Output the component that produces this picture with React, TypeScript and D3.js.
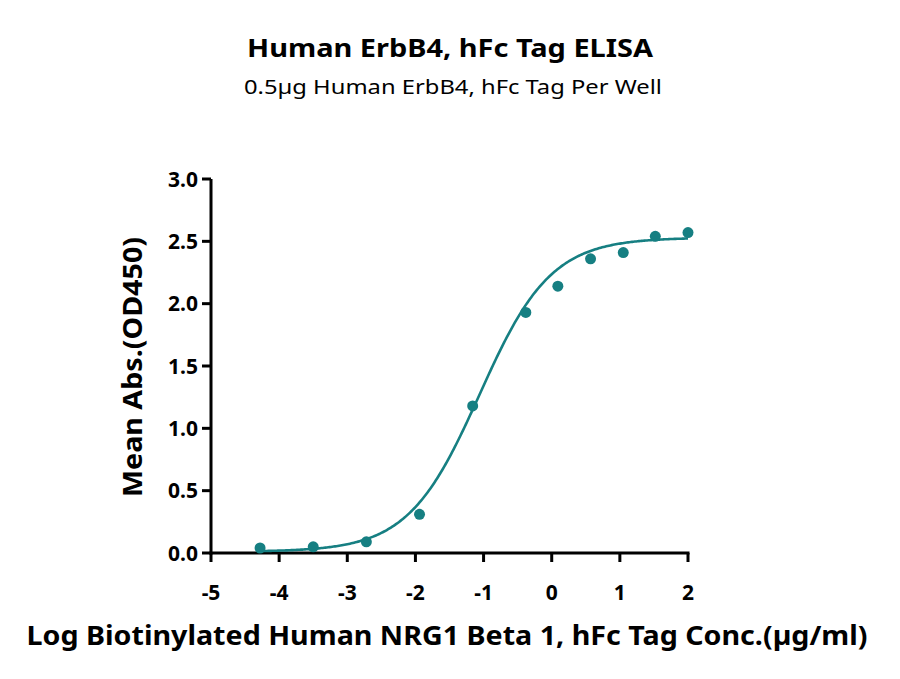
import React from "react";
import * as d3 from "d3";

// Measured points (log conc., mean OD450)
const logConc = [2.0, 1.52, 1.05, 0.57, 0.09, -0.38, -1.16, -1.94, -2.72, -3.5, -4.28];
const meanAbs = [2.57, 2.54, 2.41, 2.36, 2.14, 1.93, 1.18, 0.31, 0.09, 0.05, 0.04];

// 4PL fit: bottom, top, logEC50, hill slope
const fitBottom = [0.01];
const fitTop = [2.53];
const fitLogEC50 = [-1.06];
const fitHill = [0.83];

const xTicks = [-5, -4, -3, -2, -1, 0, 1, 2];
const yTicks = [0, 0.5, 1.0, 1.5, 2.0, 2.5, 3.0];

const title = "Human ErbB4, hFc Tag ELISA";
const subtitle = "0.5µg Human ErbB4, hFc Tag Per Well";
const xLabel = "Log Biotinylated Human NRG1 Beta 1, hFc Tag Conc.(µg/ml)";
const yLabel = "Mean Abs.(OD450)";

const W = 900;
const H = 679;
const TEAL = "#167f82";
const FONT = "'Noto Sans', 'Open Sans', sans-serif";

const App: React.FC = () => {
  const x = d3.scaleLinear().domain([-5, 2]).range([211, 688]);
  const y = d3.scaleLinear().domain([0, 3]).range([553, 179]);

  const fit = (v: number) =>
    fitBottom[0] + (fitTop[0] - fitBottom[0]) / (1 + Math.pow(10, (fitLogEC50[0] - v) * fitHill[0]));

  const xMin = d3.min(logConc) as number;
  const xMax = d3.max(logConc) as number;
  const curveX = d3.range(xMin, xMax + 0.001, 0.02);
  const line = d3
    .line<number>()
    .x((d) => x(d))
    .y((d) => y(fit(d)));

  const x0 = x.range()[0];
  const y0 = y.range()[0];

  return (
    <svg
      width={W}
      height={H}
      style={{ position: "absolute", left: 0, top: 0, background: "#fff" }}
      fontFamily={FONT}
    >
      <text x={450} y={57} textAnchor="middle" fontSize={25} fontWeight="bold" textLength={406} lengthAdjust="spacingAndGlyphs">
        {title}
      </text>
      <text x={453} y={94} textAnchor="middle" fontSize={20} textLength={418} lengthAdjust="spacingAndGlyphs">
        {subtitle}
      </text>

      {/* y axis */}
      <line x1={x0} x2={x0} y1={y(3)} y2={y0 + 1.5} stroke="#000" strokeWidth={3} />
      {yTicks.map((t) => (
        <g key={"y" + t}>
          <line x1={x0 - 9} x2={x0} y1={y(t)} y2={y(t)} stroke="#000" strokeWidth={3} />
          <text x={x0 - 13} y={y(t)} dy="0.36em" textAnchor="end" fontSize={21} fontWeight="bold">
            {t.toFixed(1)}
          </text>
        </g>
      ))}

      {/* x axis */}
      <line x1={x0 - 1.5} x2={x(2) + 1.5} y1={y0} y2={y0} stroke="#000" strokeWidth={3} />
      {xTicks.map((t) => (
        <g key={"x" + t}>
          <line x1={x(t)} x2={x(t)} y1={y0} y2={y0 + 9} stroke="#000" strokeWidth={3} />
          <text x={x(t)} y={y0 + 47} textAnchor="middle" fontSize={21} fontWeight="bold">
            {t}
          </text>
        </g>
      ))}

      <text
        transform={`translate(142,367) rotate(-90)`}
        textAnchor="middle"
        fontSize={26}
        fontWeight="bold"
        textLength={260}
        lengthAdjust="spacingAndGlyphs"
      >
        {yLabel}
      </text>
      <text x={447} y={645} textAnchor="middle" fontSize={27} fontWeight="bold" textLength={841} lengthAdjust="spacingAndGlyphs">
        {xLabel}
      </text>

      <path d={line(curveX) || ""} fill="none" stroke={TEAL} strokeWidth={2.6} />
      {logConc.map((v, i) => (
        <circle key={i} cx={x(v)} cy={y(meanAbs[i])} r={5.5} fill={TEAL} />
      ))}
    </svg>
  );
};

export default App;
